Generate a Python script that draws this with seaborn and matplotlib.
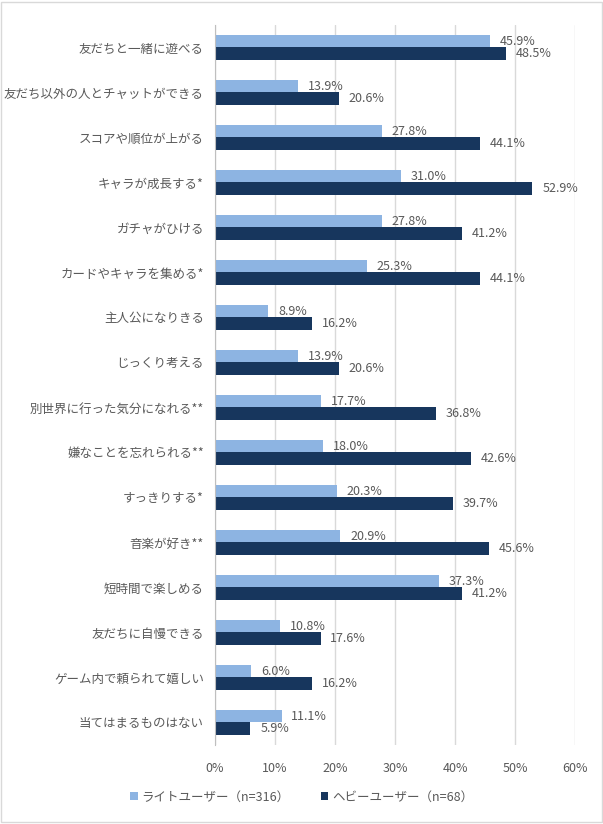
import pandas as pd
import matplotlib.pyplot as plt
import seaborn as sns
from matplotlib.patches import Rectangle

# data
items = ['友だちと一緒に遊べる', '友だち以外の人とチャットができる', 'スコアや順位が上がる',
         'キャラが成長する*', 'ガチャがひける', 'カードやキャラを集める*', '主人公になりきる',
         'じっくり考える', '別世界に行った気分になれる**', '嫌なことを忘れられる**',
         'すっきりする*', '音楽が好き**', '短時間で楽しめる', '友だちに自慢できる',
         'ゲーム内で頼られて嬉しい', '当てはまるものはない']
light = [45.9, 13.9, 27.8, 31.0, 27.8, 25.3, 8.9, 13.9, 17.7, 18.0, 20.3, 20.9, 37.3, 10.8, 6.0, 11.1]
heavy = [48.5, 20.6, 44.1, 52.9, 41.2, 44.1, 16.2, 20.6, 36.8, 42.6, 39.7, 45.6, 41.2, 17.6, 16.2, 5.9]
groups = ['ライトユーザー（n=316）', 'ヘビーユーザー（n=68）']
colors = ['#8DB4E2', '#17365D']

df = pd.DataFrame({
    'item': items * 2,
    'value': light + heavy,
    'group': [groups[0]] * len(items) + [groups[1]] * len(items),
})

sns.set_style('white')
plt.rcParams['font.family'] = ['Noto Sans CJK JP', 'DejaVu Sans']
grey = '#595959'

fig = plt.figure(figsize=(6.03, 8.24), dpi=100)
ax = fig.add_axes([0.3566, 0.0959, 0.597, 0.8738])

sns.barplot(data=df, y='item', x='value', hue='group', order=items, hue_order=groups,
            palette=colors, width=0.54, orient='h', ax=ax, saturation=1, legend=True,
            linewidth=0)

for cont in ax.containers:
    ax.bar_label(cont, labels=[f'{v:.1f}%' for v in cont.datavalues], padding=7,
                 fontsize=9, color=grey)

ax.set_xlim(0, 60)
ax.set_ylim(len(items) - 0.5, -0.5)
ax.set_xticks(range(0, 61, 10))
ax.set_xticklabels([f'{t}%' for t in range(0, 61, 10)])
ax.xaxis.grid(True, color='#D9D9D9', linewidth=1)
ax.set_axisbelow(True)
ax.set_xlabel('')
ax.set_ylabel('')
ax.tick_params(axis='both', length=0, labelsize=9, labelcolor=grey)
ax.tick_params(axis='x', pad=12)
ax.tick_params(axis='y', pad=8)
for s in ['top', 'right', 'bottom']:
    ax.spines[s].set_visible(False)
ax.spines['left'].set_color('#BFBFBF')

handles, labels = ax.get_legend_handles_labels()
ax.legend_.remove()
fig.legend(handles, labels, loc='center', bbox_to_anchor=(0.5, 0.033), ncol=2, frameon=False,
           fontsize=9, labelcolor=grey, handlelength=0.6, handleheight=0.6,
           handletextpad=0.3, columnspacing=2.5)

fig.patches.append(Rectangle((0.002, 0.002), 0.996, 0.996, transform=fig.transFigure,
                             fill=False, edgecolor='#D9D9D9', linewidth=1))

fig.savefig('out.png', dpi=100)
